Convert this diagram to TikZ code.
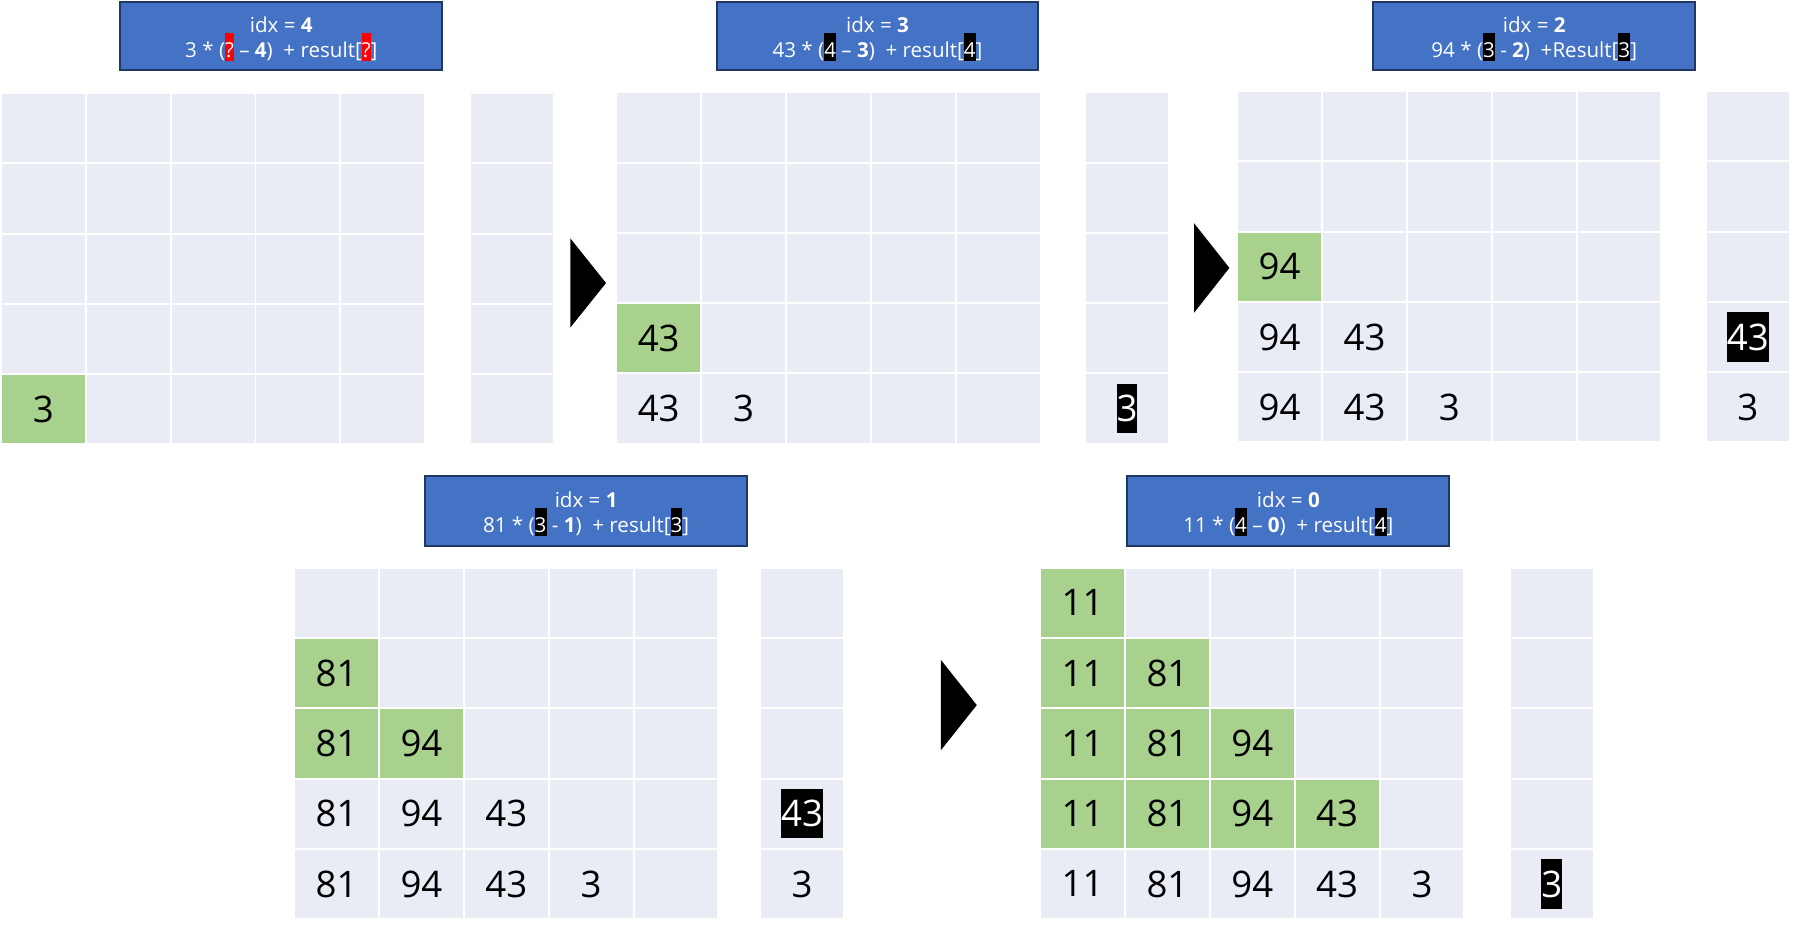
\documentclass[tikz,border=0pt]{standalone}
\usepackage{fontspec}
\setmainfont{Open Sans}
\usetikzlibrary{positioning}

\definecolor{cellbg}{HTML}{E9EBF5}
\definecolor{cellgreen}{HTML}{A9D18E}
\definecolor{boxblue}{HTML}{4472C4}
\definecolor{boxline}{HTML}{203864}

\newcommand{\cellfont}{\fontsize{32}{38}\selectfont}
% highlighted character inside the idx boxes
\newcommand{\hlchar}[2]{\smash{{\setlength{\fboxsep}{0pt}\colorbox{#1}{\rule[-3.7pt]{0pt}{25pt}#2}}}}

% 5x5 table plus result column: name, x, y, x of result column
\newcommand{\panel}[4]{%
	\foreach \r in {1,...,5}{%
		\foreach \c in {1,...,5}{%
			\node [cell] (#1-\r-\c) at ({#2+36.25+(\c-1)*74.2},{#3+29.9+(\r-1)*61.45}) {};
		}
		\node [cell,minimum width=71.5pt] (#1-\r-r) at ({#4+35.75},{#3+29.9+(\r-1)*61.45}) {};
	}
}

\tikzset{
	cell/.style={minimum width=72.5pt,minimum height=59.7pt,inner sep=0pt,outer sep=0pt,fill=cellbg,font=\cellfont},
	newcell/.style={cell,fill=cellgreen},
	num/.style={inner sep=0pt,font=\cellfont},
	hl/.style={fill=black,text=white,inner sep=0pt,minimum height=43pt,font=\cellfont},
	idxbox/.style={minimum width=281.5pt,minimum height=59.5pt,inner sep=0pt,draw=boxline,line width=1.75pt,fill=boxblue,text=white,align=center,font=\fontsize{18}{22}\selectfont},
}

\begin{document}
\begin{tikzpicture}[x=1pt,y=-1pt]
	\useasboundingbox (0,0) rectangle (1568,813.3);

	% idx = 4
	\node [idxbox] (idx4) at (246,31.5) {\rule{0pt}{18pt}idx = \textbf{4}\\3 * (\hlchar{red}{?} – \textbf{4}) \ + result[\hlchar{red}{?}]};
	\panel{p1}{1.7}{82.2}{411.7}
	\node [newcell] at (p1-5-1) {3};

	\fill (498.7,208.4) -- (530,247.5) -- (498.7,286.5) -- cycle;

	% idx = 3
	\node [idxbox] (idx3) at (767.4,31.5) {\rule{0pt}{18pt}idx = \textbf{3}\\43 * (\hlchar{black}{4} – \textbf{3}) \ + result[\hlchar{black}{4}]};
	\panel{p2}{539.8}{81.6}{949.8}
	\node [newcell] at (p2-4-1) {43};
	\foreach \c/\v in {1/43,2/3} \node [num] at (p2-5-\c) {\v};
	\node [hl] at (p2-5-r) {3};

	\fill (1044.3,195.3) -- (1075.1,234.3) -- (1044.3,273.4) -- cycle;

	% idx = 2
	\node [idxbox] (idx2) at (1341.7,31.5) {\rule{0pt}{18pt}idx = \textbf{2}\\94 * (\hlchar{black}{3} - \textbf{2}) \ +Result[\hlchar{black}{3}]};
	\panel{p3}{1082.8}{80.4}{1492.8}
	\node [newcell] at (p3-3-1) {94};
	\foreach \r/\c/\v in {4/1/94,4/2/43,5/1/94,5/2/43,5/3/3} \node [num] at (p3-\r-\c) {\v};
	\node [hl] at (p3-4-r) {43};
	\node [num] at (p3-5-r) {3};

	% idx = 1
	\node [idxbox,minimum height=61pt] (idx1) at (512.6,446.8) {\rule{0pt}{18pt}idx = \textbf{1}\\81 * (\hlchar{black}{3} - \textbf{1}) \ + result[\hlchar{black}{3}]};
	\panel{p4}{258.1}{497.3}{665.6}
	\foreach \r/\c/\v in {2/1/81,3/1/81,3/2/94} \node [newcell] at (p4-\r-\c) {\v};
	\foreach \r/\c/\v in {4/1/81,4/2/94,4/3/43,5/1/81,5/2/94,5/3/43,5/4/3} \node [num] at (p4-\r-\c) {\v};
	\node [hl] at (p4-4-r) {43};
	\node [num] at (p4-5-r) {3};

	\fill (822.9,577.2) -- (854.2,616.6) -- (822.9,655.9) -- cycle;

	% idx = 0
	\node [idxbox,minimum height=61pt] (idx0) at (1126.7,446.8) {\rule{0pt}{18pt}idx = \textbf{0}\\11 * (\hlchar{black}{4} – \textbf{0}) \ + result[\hlchar{black}{4}]};
	\panel{p5}{910.5}{497.3}{1321.4}
	\foreach \r/\c/\v in {1/1/11,2/1/11,2/2/81,3/1/11,3/2/81,3/3/94,4/1/11,4/2/81,4/3/94,4/4/43} \node [newcell] at (p5-\r-\c) {\v};
	\foreach \c/\v in {1/11,2/81,3/94,4/43,5/3} \node [num] at (p5-5-\c) {\v};
	\node [hl] at (p5-5-r) {3};
\end{tikzpicture}
\end{document}
